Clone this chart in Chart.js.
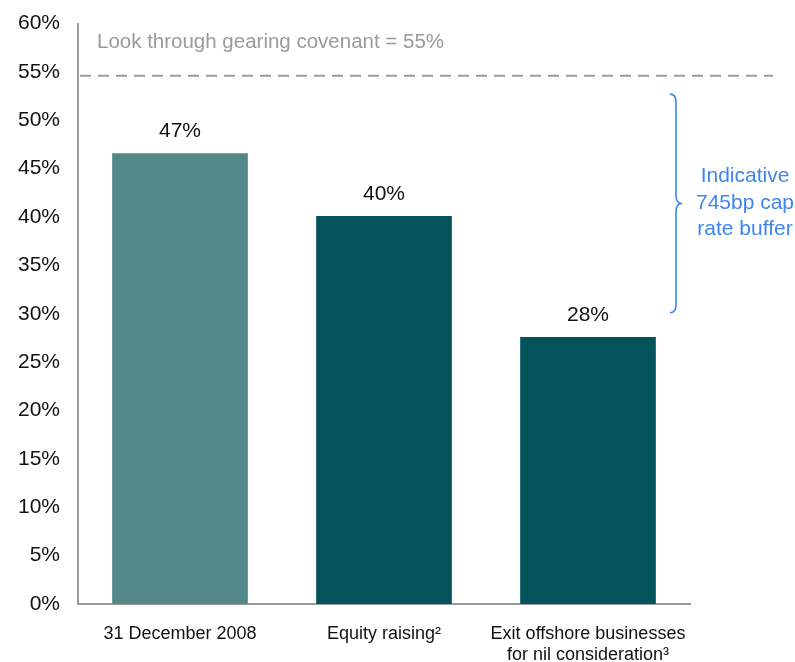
<!DOCTYPE html>
<html>
<head>
<meta charset="utf-8">
<script src="https://cdn.jsdelivr.net/npm/chart.js@4.4.1/dist/chart.umd.min.js"></script>
<style>
  html, body { margin: 0; padding: 0; background: #fff; }
  #wrap { width: 795px; height: 662px; position: relative; }
</style>
</head>
<body>
<div id="wrap"><canvas id="chart"></canvas></div>
<script>
// ── data ──────────────────────────────────────────────
const categories = [
  "31 December 2008",
  "Equity raising\u00B2",
  ["Exit offshore businesses", "for nil consideration\u00B3"],
];
const gearing     = [46.6, 40.1, 27.6];
const valueLabels = ["47%", "40%", "28%"];
const barColors   = ["#538888", "#03535A", "#03535A"];

const yTicks       = [0, 5, 10, 15, 20, 25, 30, 35, 40, 45, 50, 55, 60];
const covenantLine = 54.6;   // drawn slightly below the 55% tick in the source
const covenantText = "Look through gearing covenant = 55%";
const braceRange   = [52.7, 30.1];
const braceText    = ["Indicative", "745bp cap", "rate buffer"];

const FONT = "'Liberation Sans', Arial, sans-serif";

// ── overlay: covenant line, bar labels, brace ─────────
const overlay = {
  id: "overlay",
  afterDatasetsDraw(chart) {
    const { ctx, chartArea, scales: { y } } = chart;

    // covenant dashed line
    const yc = y.getPixelForValue(covenantLine);
    ctx.save();
    ctx.strokeStyle = "#9a9a9a";
    ctx.lineWidth = 2;
    ctx.setLineDash([11, 7]);
    ctx.beginPath();
    ctx.moveTo(chartArea.left + 2, yc);
    ctx.lineTo(chartArea.right + 83, yc);
    ctx.stroke();
    ctx.setLineDash([]);

    ctx.fillStyle = "#9a9a9a";
    ctx.font = "20.5px " + FONT;
    ctx.textBaseline = "middle";
    ctx.textAlign = "left";
    ctx.fillText(covenantText, chartArea.left + 19, y.getPixelForValue(58.1));

    // value labels above bars
    const meta = chart.getDatasetMeta(0);
    ctx.fillStyle = "#111";
    ctx.font = "21px " + FONT;
    ctx.textAlign = "center";
    meta.data.forEach((bar, i) => {
      ctx.fillText(valueLabels[i], bar.x, bar.y - 22);
    });

    // curly brace
    const top = y.getPixelForValue(braceRange[0]);
    const bot = y.getPixelForValue(braceRange[1]);
    const mid = (top + bot) / 2;
    const x0 = chartArea.right - 20, x1 = x0 + 6, x2 = x0 + 12;
    ctx.strokeStyle = "#3D85F0";
    ctx.lineWidth = 1.6;
    ctx.beginPath();
    ctx.moveTo(x0, top);
    ctx.quadraticCurveTo(x1, top, x1, top + 8);
    ctx.lineTo(x1, mid - 8);
    ctx.quadraticCurveTo(x1, mid, x2, mid);
    ctx.quadraticCurveTo(x1, mid, x1, mid + 8);
    ctx.lineTo(x1, bot - 8);
    ctx.quadraticCurveTo(x1, bot, x0, bot);
    ctx.stroke();

    ctx.fillStyle = "#3D85F0";
    ctx.font = "21px " + FONT;
    ctx.textAlign = "center";
    braceText.forEach((t, i) => {
      ctx.fillText(t, chartArea.right + 55, mid - 27 + i * 26.5);
    });
    ctx.restore();
  },
};

new Chart(document.getElementById("chart"), {
  type: "bar",
  data: {
    labels: categories,
    datasets: [{
      data: gearing,
      backgroundColor: barColors,
      borderWidth: 0,
      categoryPercentage: 1,
      barPercentage: 0.665,
    }],
  },
  options: {
    responsive: true,
    maintainAspectRatio: false,
    animation: false,
    events: [],
    layout: { padding: { left: 0, right: 105, top: 23.5, bottom: 0 } },
    plugins: { legend: { display: false }, tooltip: { enabled: false } },
    scales: {
      x: {
        grid: { display: false },
        border: { display: true, color: "#9a9a9a", width: 2 },
        ticks: { color: "#111", font: { family: FONT, size: 18 }, padding: 11, maxRotation: 0, autoSkip: false },
        afterFit: (s) => { s.height = 58; s.paddingLeft = 0; s.paddingRight = 0; },
      },
      y: {
        min: 0,
        max: 60,
        afterBuildTicks: (s) => { s.ticks = yTicks.map((v) => ({ value: v })); },
        grid: { display: false },
        border: { display: true, color: "#9a9a9a", width: 2 },
        ticks: {
          color: "#111",
          font: { family: FONT, size: 21 },
          padding: 10,
          callback: (v) => v + "%",
        },
        afterFit: (s) => { s.width = 78; s.paddingTop = 0; s.paddingBottom = 0; },
      },
    },
  },
  plugins: [overlay],
});
</script>
</body>
</html>
